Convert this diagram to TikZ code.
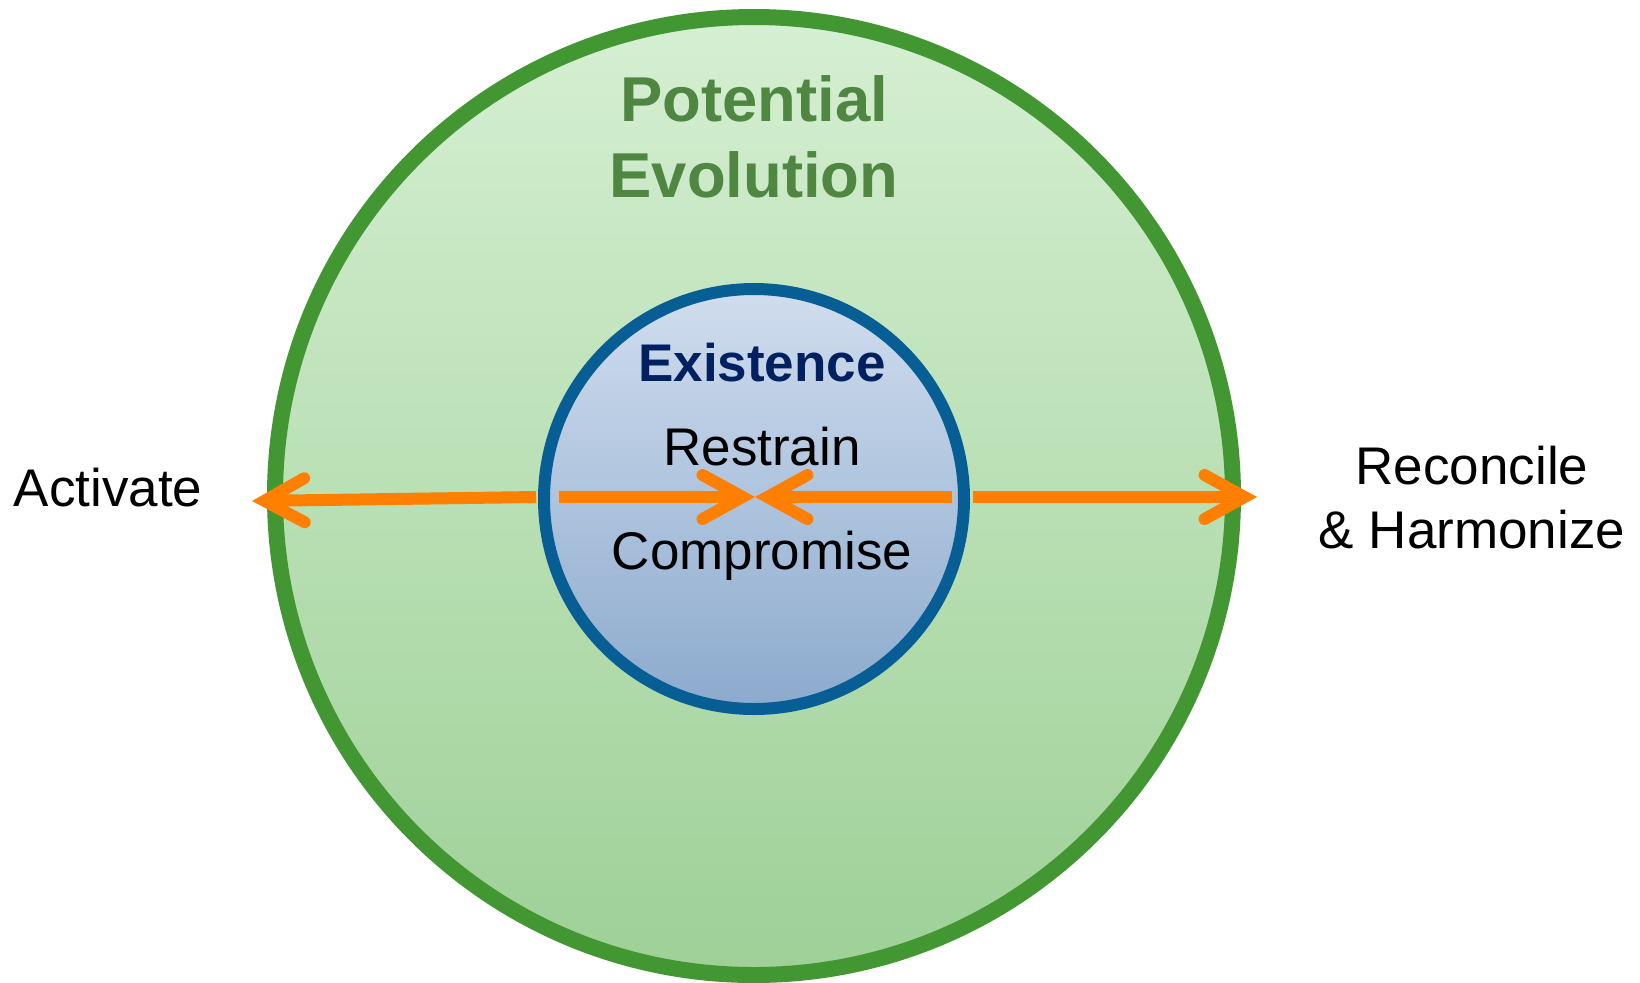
\documentclass[tikz,border=0pt]{standalone}
\usepackage{fontspec}
\setmainfont{Liberation Sans}
\usetikzlibrary{arrows.meta}
\definecolor{evoline}{RGB}{67,151,51}
\definecolor{evotop}{RGB}{213,239,210}
\definecolor{evobot}{RGB}{158,208,151}
\definecolor{evotext}{RGB}{78,134,66}
\definecolor{exline}{RGB}{6,94,148}
\definecolor{extop}{RGB}{208,221,238}
\definecolor{exbot}{RGB}{140,170,205}
\definecolor{extext}{RGB}{0,32,96}
\definecolor{pull}{RGB}{255,128,0}
\begin{document}
\begin{tikzpicture}[x=0.5pt, y=-0.5pt, line join=round,
	ring/.style={circle, inner sep=0pt, outer sep=0pt},
	word/.style={font=\fontsize{26.5}{32}\selectfont, anchor=base},
	pullarrow/.style={draw=pull, line width=6pt, -{Straight Barb[length=20pt, width=22pt, line cap=round, line join=miter]}}]
	\useasboundingbox[fill=white] (0,0) rectangle (1640,982);
	% circles
	\node[ring, draw=evoline, line width=8pt, top color=evotop, bottom color=evobot, minimum size=479pt] (evo) at (754,496) {};
	\node[ring, draw=exline, line width=6pt, top color=extop, bottom color=exbot, minimum size=210pt] (exist) at (754,499) {};
	% titles
	\node[anchor=base, text=evotext, font=\fontsize{31.7}{38}\selectfont\bfseries] (pot) at (754,121) {Potential};
	\node[anchor=base, text=evotext, font=\fontsize{31.7}{38}\selectfont\bfseries] (evol) at (754,197) {Evolution};
	\node[word, text=extext, font=\fontsize{26.5}{32}\selectfont\bfseries] (extitle) at (762,381) {Existence};
	\node[word] (restrain) at (762,465) {Restrain};
	\node[word] (compromise) at (762,569) {Compromise};
	\node[word] (activate) at (108,506) {Activate};
	\node[word] (reconcile) at (1472,484) {Reconcile};
	\node[word] (harmonize) at (1472,548) {\& Harmonize};
	% arrows
	\coordinate (la) at (536,497);
	\coordinate (lt) at (252,501);
	\coordinate (li) at (559,497);
	\coordinate (mid) at (755,497);
	\coordinate (ri) at (952,497);
	\coordinate (ra) at (973,497);
	\coordinate (rt) at (1257,497);
	\draw[pullarrow] (la) -- (lt);
	\draw[pullarrow] (li) -- (mid);
	\draw[pullarrow] (ri) -- (mid);
	\draw[pullarrow] (ra) -- (rt);
\end{tikzpicture}
\end{document}
